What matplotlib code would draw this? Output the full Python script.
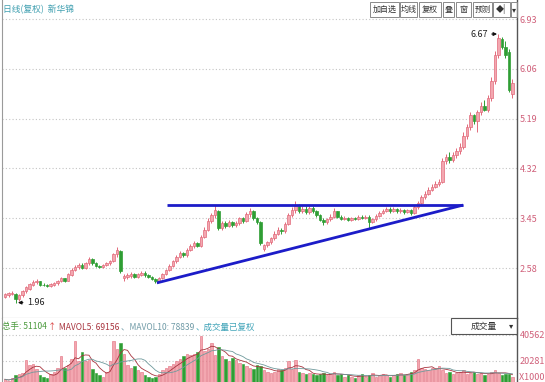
import numpy as np
import pandas as pd
import matplotlib
matplotlib.use('Agg')
import matplotlib.pyplot as plt
from matplotlib.patches import Rectangle

plt.rcParams['font.family'] = ['Noto Sans CJK SC', 'DejaVu Sans']

# daily candles (qfq)
opens = [2.08, 2.10, 2.12, 2.13, 2.03, 2.10, 2.17, 2.22, 2.28, 2.33,
         2.35, 2.29, 2.28, 2.27, 2.29, 2.31, 2.35, 2.40, 2.36, 2.46,
         2.54, 2.60, 2.64, 2.58, 2.66, 2.73, 2.66, 2.62, 2.60, 2.63,
         2.66, 2.70, 2.82, 2.88, 2.40, 2.42, 2.44, 2.47, 2.43, 2.46,
         2.50, 2.46, 2.42, 2.39, 2.36, 2.40, 2.47, 2.55, 2.62, 2.70,
         2.78, 2.84, 2.80, 2.90, 2.96, 3.02, 2.97, 3.12, 3.25, 3.40,
         3.50, 3.58, 3.28, 3.36, 3.32, 3.38, 3.33, 3.36, 3.45, 3.40,
         3.52, 3.58, 3.45, 3.38, 2.92, 2.98, 3.03, 3.10, 3.18, 3.25,
         3.22, 3.35, 3.50, 3.60, 3.66, 3.58, 3.62, 3.56, 3.63, 3.57,
         3.50, 3.42, 3.38, 3.43, 3.48, 3.57, 3.48, 3.44, 3.46, 3.42,
         3.46, 3.44, 3.47, 3.45, 3.48, 3.38, 3.43, 3.49, 3.54, 3.58,
         3.62, 3.58, 3.61, 3.57, 3.60, 3.56, 3.59, 3.54, 3.64, 3.72,
         3.82, 3.88, 3.95, 4.00, 4.05, 4.08, 4.45, 4.52, 4.46, 4.55,
         4.62, 4.70, 4.88, 5.05, 5.25, 5.15, 5.30, 5.42, 5.35, 5.55,
         5.85, 6.30, 6.58, 6.45, 6.35, 5.62]
closes = [2.12, 2.14, 2.15, 2.03, 2.10, 2.18, 2.24, 2.30, 2.34, 2.36,
          2.29, 2.28, 2.27, 2.30, 2.32, 2.35, 2.40, 2.36, 2.47, 2.55,
          2.60, 2.64, 2.58, 2.66, 2.74, 2.66, 2.62, 2.60, 2.63, 2.66,
          2.70, 2.82, 2.90, 2.52, 2.44, 2.46, 2.48, 2.43, 2.47, 2.50,
          2.46, 2.42, 2.39, 2.36, 2.40, 2.47, 2.55, 2.62, 2.70, 2.78,
          2.84, 2.80, 2.90, 2.96, 3.02, 2.97, 3.12, 3.25, 3.40, 3.50,
          3.60, 3.28, 3.36, 3.32, 3.38, 3.33, 3.36, 3.45, 3.40, 3.52,
          3.58, 3.45, 3.38, 3.02, 2.98, 3.03, 3.10, 3.18, 3.25, 3.22,
          3.35, 3.50, 3.60, 3.66, 3.58, 3.62, 3.56, 3.63, 3.57, 3.50,
          3.42, 3.38, 3.43, 3.48, 3.57, 3.48, 3.44, 3.46, 3.42, 3.46,
          3.44, 3.47, 3.45, 3.48, 3.38, 3.43, 3.49, 3.54, 3.58, 3.62,
          3.58, 3.61, 3.57, 3.60, 3.56, 3.59, 3.54, 3.64, 3.72, 3.82,
          3.88, 3.95, 4.00, 4.05, 4.08, 4.45, 4.52, 4.46, 4.55, 4.62,
          4.70, 4.88, 5.05, 5.25, 5.15, 5.30, 5.42, 5.35, 5.55, 5.85,
          6.30, 6.60, 6.45, 6.30, 5.70, 5.82]
highs = [2.14, 2.16, 2.17, 2.14, 2.12, 2.20, 2.26, 2.32, 2.37, 2.38,
         2.36, 2.31, 2.30, 2.31, 2.34, 2.37, 2.42, 2.41, 2.49, 2.58,
         2.63, 2.67, 2.66, 2.69, 2.78, 2.75, 2.68, 2.64, 2.65, 2.68,
         2.72, 2.85, 2.95, 2.90, 2.48, 2.49, 2.51, 2.50, 2.50, 2.53,
         2.52, 2.48, 2.44, 2.41, 2.42, 2.49, 2.57, 2.65, 2.72, 2.80,
         2.88, 2.86, 2.93, 3.00, 3.05, 3.04, 3.15, 3.30, 3.45, 3.55,
         3.68, 3.60, 3.40, 3.40, 3.42, 3.41, 3.40, 3.48, 3.48, 3.56,
         3.63, 3.60, 3.48, 3.40, 3.00, 3.06, 3.13, 3.22, 3.30, 3.28,
         3.38, 3.55, 3.64, 3.76, 3.70, 3.66, 3.66, 3.66, 3.66, 3.60,
         3.52, 3.45, 3.46, 3.52, 3.63, 3.58, 3.50, 3.49, 3.48, 3.48,
         3.48, 3.50, 3.50, 3.51, 3.50, 3.45, 3.52, 3.57, 3.61, 3.65,
         3.64, 3.64, 3.63, 3.63, 3.62, 3.62, 3.61, 3.68, 3.76, 3.86,
         3.93, 3.99, 4.05, 4.10, 4.14, 4.50, 4.58, 4.60, 4.60, 4.67,
         4.76, 4.95, 5.10, 5.30, 5.28, 5.35, 5.48, 5.52, 5.60, 5.92,
         6.38, 6.67, 6.62, 6.55, 6.40, 5.88]
lows = [2.06, 2.08, 2.10, 1.96, 2.01, 2.08, 2.15, 2.20, 2.26, 2.30,
        2.27, 2.26, 2.25, 2.25, 2.27, 2.29, 2.33, 2.33, 2.35, 2.44,
        2.52, 2.57, 2.56, 2.57, 2.64, 2.64, 2.60, 2.58, 2.58, 2.61,
        2.64, 2.68, 2.78, 2.50, 2.36, 2.39, 2.41, 2.41, 2.41, 2.44,
        2.43, 2.40, 2.37, 2.32, 2.34, 2.38, 2.45, 2.53, 2.60, 2.67,
        2.75, 2.77, 2.78, 2.87, 2.93, 2.94, 2.95, 3.10, 3.22, 3.37,
        3.46, 3.25, 3.24, 3.28, 3.30, 3.30, 3.30, 3.33, 3.37, 3.38,
        3.48, 3.42, 3.35, 2.98, 2.88, 2.95, 3.00, 3.07, 3.15, 3.18,
        3.20, 3.33, 3.47, 3.55, 3.55, 3.55, 3.52, 3.53, 3.54, 3.47,
        3.40, 3.34, 3.35, 3.40, 3.46, 3.45, 3.42, 3.42, 3.40, 3.40,
        3.42, 3.42, 3.43, 3.43, 3.28, 3.36, 3.41, 3.47, 3.52, 3.56,
        3.55, 3.56, 3.54, 3.55, 3.53, 3.54, 3.51, 3.52, 3.62, 3.70,
        3.79, 3.85, 3.92, 3.97, 4.02, 4.06, 4.40, 4.42, 4.43, 4.50,
        4.58, 4.66, 4.84, 5.00, 5.10, 4.95, 5.25, 5.32, 5.30, 5.50,
        5.80, 6.25, 6.40, 6.25, 5.66, 5.55]
# volume in thousands of lots
vol_k = [6, 5, 7, 9, 10, 11, 21, 17, 18, 14,
         9, 8, 7, 10, 12, 15, 24, 15, 17, 22,
         36, 20, 27, 20, 21, 14, 11, 9, 8, 12,
         20, 36, 30, 34, 26, 17, 15, 16, 13, 12,
         9, 8, 7, 8, 10, 13, 15, 16, 18, 20,
         22, 24, 26, 25, 26, 27, 40, 28, 30, 34,
         25, 31, 24, 22, 20, 23, 21, 19, 18, 16,
         15, 14, 17, 16, 13, 12, 11, 12, 14, 13,
         15, 20, 14, 21, 12, 11, 10, 11, 10, 9,
         10, 11, 9, 10, 12, 9, 10, 8, 9, 8,
         7, 9, 10, 8, 9, 11, 8, 9, 10, 9,
         8, 9, 10, 11, 9, 10, 12, 13, 22, 15,
         14, 13, 15, 14, 16, 13, 11, 12, 10, 11,
         12, 13, 10, 11, 12, 10, 11, 9, 10, 12,
         13, 11, 9, 10, 10, 8]

price_ticks = [6.93, 6.06, 5.19, 4.32, 3.45, 2.58]
vol_ticks = [40562, 20281]

# ascending triangle drawn on the chart
top_line_x = [46.3, 130.9]
top_line_y = [3.68, 3.68]
low_line_x = [43.4, 130.9]
low_line_y = [2.32, 3.68]

UP_FACE = '#f3a7b0'
UP_EDGE = '#e26a7a'
DOWN = '#2f9e34'
AXIS_TXT = '#d0607a'
GRID = '#c4c4c4'

W, H = 545, 382
fig = plt.figure(figsize=(W / 100, H / 100), dpi=100)
fig.patch.set_facecolor('white')

ax = fig.add_axes([2 / W, (H - 318) / H, 515 / W, 318 / H])
axv = fig.add_axes([2 / W, 0, 515 / W, 64 / H])

o = np.array(opens)
c = np.array(closes)
hi = np.array(highs)
lo = np.array(lows)
idx = np.arange(len(o))
up = c >= o

# wicks
ax.vlines(idx[up], lo[up], hi[up], color=UP_EDGE, lw=0.7, zorder=2)
ax.vlines(idx[~up], lo[~up], hi[~up], color=DOWN, lw=0.7, zorder=2)
# bodies
bottom = np.minimum(o, c)
height = np.maximum(np.abs(c - o), 0.01)
ax.bar(idx[up], height[up], bottom=bottom[up], width=0.72,
       color=UP_FACE, edgecolor=UP_EDGE, lw=0.5, zorder=3)
ax.bar(idx[~up], height[~up], bottom=bottom[~up], width=0.72,
       color=DOWN, edgecolor=DOWN, lw=0.5, zorder=3)

ax.plot(top_line_x, top_line_y, color='#1c1cc8', lw=2.0, zorder=4,
        solid_capstyle='butt')
ax.plot(low_line_x, low_line_y, color='#1c1cc8', lw=2.0, zorder=4,
        solid_capstyle='butt')

ax.set_xlim(-0.86, 146.3)
ax.set_ylim(1.706, 7.265)
for p in price_ticks:
    ax.axhline(p, color=GRID, lw=0.8, ls=(0, (1, 2)), zorder=0)
ax.set_xticks([])
ax.yaxis.tick_right()
ax.set_yticks(price_ticks)
ax.set_yticklabels(['%.2f' % p for p in price_ticks])
ax.tick_params(axis='y', length=0, pad=2, labelsize=6.5, labelcolor=AXIS_TXT)

ax.spines['top'].set_visible(False)
ax.spines['left'].set_color('#9a9a9a')
ax.spines['bottom'].set_color('#8a8a8a')
ax.spines['right'].set_color('#555555')
ax.spines['right'].set_linewidth(1.0)

# extreme marks
ax.annotate('6.67', xy=(140.6, 6.67), xytext=(137.9, 6.67), ha='right',
            va='center', fontsize=6.5, color='#222222',
            arrowprops=dict(arrowstyle='-|>', color='#111111', lw=0.8,
                            mutation_scale=5, shrinkA=1, shrinkB=0))
ax.annotate('1.96', xy=(3.7, 1.975), xytext=(6.3, 1.975), ha='left',
            va='center', fontsize=6.5, color='#222222',
            arrowprops=dict(arrowstyle='-|>', color='#111111', lw=0.8,
                            mutation_scale=5, shrinkA=1, shrinkB=0))

# header
fig.text(3 / W, 1 - 9 / H, '日线(复权)  新华锦', fontsize=6.3, color='#3f9fb0',
         va='center', ha='left')
buttons = [('加自选', 370, 399), ('均线', 400, 417), ('复权', 419, 441),
           ('叠', 443, 454), ('窗', 456, 471), ('预测', 473, 492),
           ('◆|', 493, 510), ('▾', 511, 517)]
for label, x0, x1 in buttons:
    fig.patches.append(Rectangle((x0 / W, 1 - 17 / H), (x1 - x0) / W, 15 / H,
                                 transform=fig.transFigure, fill=False,
                                 edgecolor='#8a8a8a', lw=0.7))
    fig.text((x0 + x1) / 2 / W, 1 - 9.5 / H, label, fontsize=5.8,
             color='#333333', ha='center', va='center')

# volume panel
vol = np.array(vol_k) * 1000
axv.bar(idx[up], vol[up], width=0.72, color=UP_FACE, edgecolor=UP_EDGE,
        lw=0.4, zorder=2)
axv.bar(idx[~up], vol[~up], width=0.72, color=DOWN, edgecolor=DOWN,
        lw=0.4, zorder=2)
s = pd.Series(vol)
axv.plot(idx, s.rolling(5, min_periods=1).mean(), color='#a8343e', lw=0.6,
         zorder=3)
axv.plot(idx, s.rolling(10, min_periods=1).mean(), color='#6f9a9c', lw=0.6,
         zorder=3)
axv.set_xlim(-0.86, 146.3)
axv.set_ylim(3900, 53800)
for v in vol_ticks:
    axv.axhline(v, color=GRID, lw=0.8, ls=(0, (1, 2)), zorder=0)
axv.set_xticks([])
axv.yaxis.tick_right()
axv.set_yticks(vol_ticks)
axv.set_yticklabels([str(v) for v in vol_ticks])
axv.tick_params(axis='y', length=0, pad=2, labelsize=6.5, labelcolor=AXIS_TXT)
axv.text(1.0, 0.0, ' X1000', transform=axv.transAxes, fontsize=6.5,
         color=AXIS_TXT, ha='left', va='bottom')
for sp in ['top', 'bottom']:
    axv.spines[sp].set_visible(False)
axv.spines['left'].set_color('#9a9a9a')
axv.spines['right'].set_color('#555555')
axv.spines['right'].set_linewidth(1.0)

# legend line of the volume panel, laid out piece by piece
pieces = [('总手: 51104', '#4a9a3c'), ('↑', '#d83a3a'),
          (' MAVOL5: 69156', '#a8343e'), ('、MAVOL10: 78839', '#6f9aa6'),
          ('、成交量已复权', '#3fa3b8')]
renderer = fig.canvas.get_renderer()
xp = 2.0
for txt, col in pieces:
    t = fig.text(xp / W, 1 - 327 / H, txt, fontsize=6.1, color=col,
                 ha='left', va='center')
    xp = t.get_window_extent(renderer).x1 + 1.0

fig.patches.append(Rectangle((451 / W, 1 - 334 / H), 66 / W, 16 / H,
                             transform=fig.transFigure, fill=False,
                             edgecolor='#555555', lw=0.8))
fig.text(484 / W, 1 - 326 / H, '成交量', fontsize=6.3, color='#333333',
         ha='center', va='center')
fig.text(511 / W, 1 - 326 / H, '▾', fontsize=6, color='#333333',
         ha='center', va='center')

fig.savefig('out.png', dpi=100, facecolor='white')
